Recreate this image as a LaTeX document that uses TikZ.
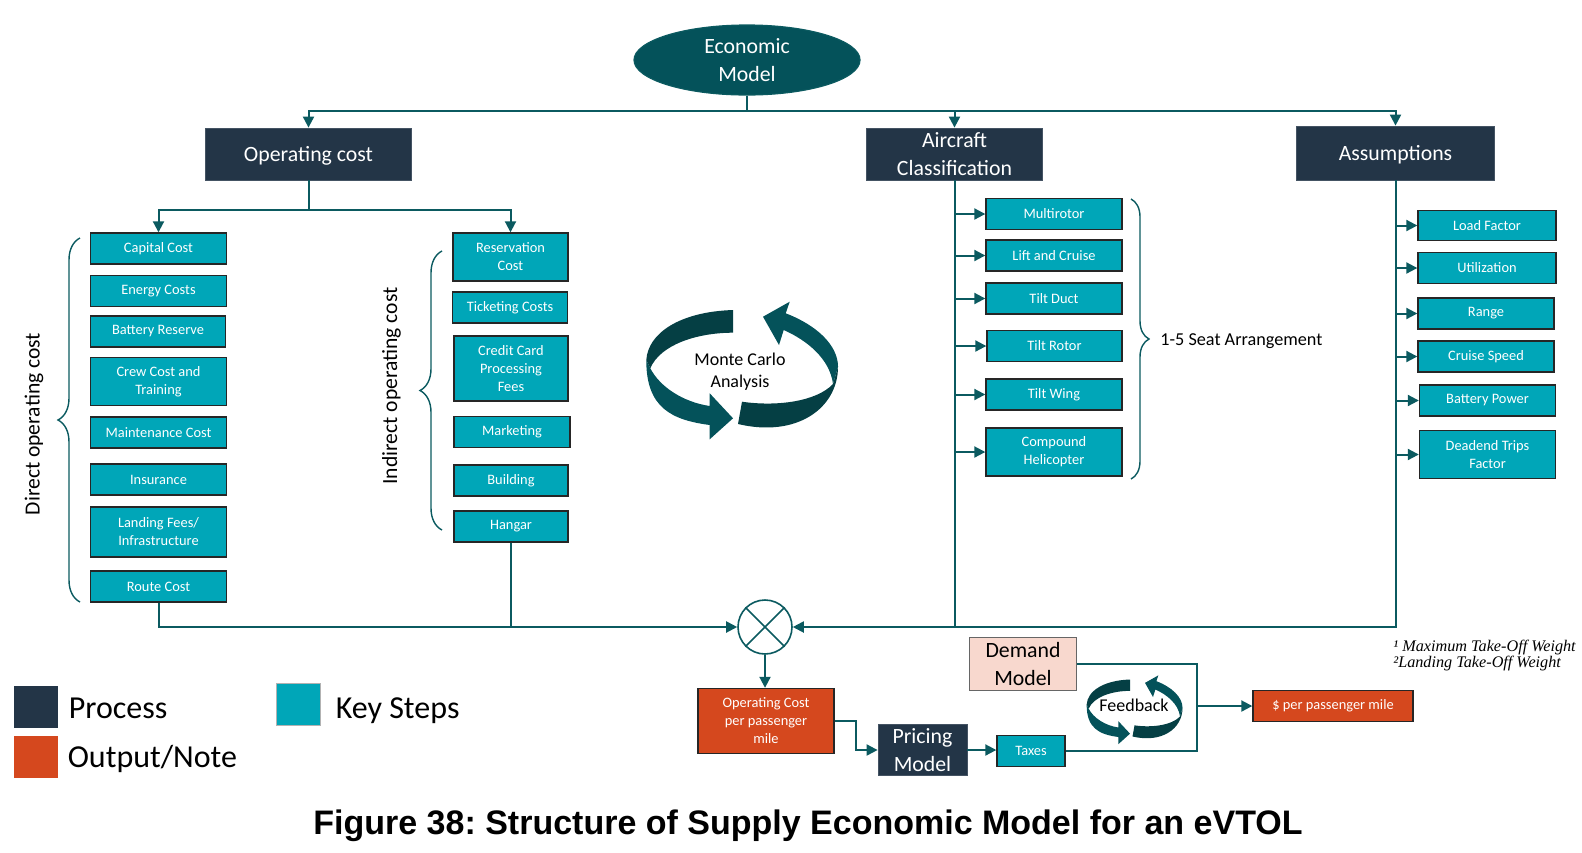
\documentclass[tikz,border=0pt]{standalone}
\usepackage{fontspec}
\setmainfont{Carlito}
\newfontfamily\titlefont{Liberation Sans}
\newfontfamily\notefont{Liberation Serif}
\usetikzlibrary{positioning, arrows.meta, decorations.pathreplacing, shapes.geometric}

\definecolor{navy}{HTML}{233547}
\definecolor{teal}{HTML}{00A6B8}
\definecolor{rust}{HTML}{D5481E}
\definecolor{peach}{HTML}{F8D8CE}
\definecolor{wire}{HTML}{0B5A60}
\definecolor{ribbon}{HTML}{04525A}
\definecolor{ribbondark}{HTML}{053F44}

% ribbon of two arrows: centre x, centre y, scale
\newcommand{\cycleloop}[3]{%
    \begin{scope}[shift={(#1,#2)}, scale=#3]
        \fill[ribbondark] (-9,-60) .. controls (-62,-58.3) and (-94,-37) .. (-95.7,-10)
            -- (-91.7,-1.7) .. controls (-82,-25) and (-45.7,-37.3) .. (-9,-37.3) -- cycle;
        \fill[ribbon] (-95.7,-10) .. controls (-96,38) and (-70,50) .. (-32.3,55)
            -- (-32.3,69.3) -- (-9,48.3) -- (-32.3,23.3) -- (-32.3,36)
            .. controls (-59,32) and (-82,17) .. (-91.7,-1.7) -- cycle;
        \fill[ribbondark] (0,31.7) .. controls (34.3,36.7) and (74.3,31.7) .. (91,14)
            -- (96,-3.3) .. controls (96,38) and (55,68) .. (-4,54) -- cycle;
        \fill[ribbon] (21,-53.3) -- (47.7,-68.3) -- (43.7,-56.7)
            .. controls (74.3,-45) and (96,-25) .. (96,-3.3) -- (91,14)
            .. controls (87.7,-11.7) and (64.3,-30) .. (41.7,-40) -- (37,-25) -- cycle;
    \end{scope}%
}

\begin{document}
\frenchspacing
\begin{tikzpicture}[
    x=0.5pt, y=-0.5pt,
    >={Triangle[length=5.5pt,width=5.5pt]},
    process/.style={
        fill=navy,
        draw=navy!85!white,
        line width=0.4pt,
        text=white,
        inner sep=0pt,
        align=center,
        font=\fontsize{10.9}{14}\selectfont,
    },
    keystep/.style={
        fill=teal,
        draw=black!85,
        line width=0.7pt,
        text=white,
        inner sep=0pt,
        align=center,
        minimum width=68pt,
        minimum height=15.5pt,
        font=\fontsize{7.2}{9}\selectfont,
    },
    tall/.style={minimum height=24pt},
    output/.style={
        keystep,
        fill=rust,
    },
    link/.style={
        draw=wire,
        line width=1pt,
    },
    bracket/.style={
        draw=wire,
        line width=0.7pt,
        decorate,
        decoration={brace, amplitude=11pt},
    },
    side label/.style={
        font=\fontsize{10.8}{12}\selectfont,
        inner sep=0pt,
    },
    swatch/.style={
        minimum width=22pt,
        minimum height=21pt,
        inner sep=0pt,
    },
    legend label/.style={
        font=\fontsize{16}{18}\selectfont,
        inner sep=0pt,
    },
]
\useasboundingbox (0,0) rectangle (1582,852);

% --- Top of the tree ---
\node[fill=ribbon, draw=wire, line width=0.6pt, ellipse, minimum width=113pt, minimum height=35pt,
    inner sep=0pt, text=white, align=center, font=\fontsize{10.9}{14}\selectfont]
    (model) at (747,60) {Economic\\Model};

\node[process, text depth=0pt, minimum width=103pt, minimum height=26pt] (opcost) at (308.5,154) {Operating cost};
\node[process, minimum width=88pt, minimum height=26pt] (aircraft) at (954.5,154) {Aircraft\\Classification};
\node[process, text depth=0pt, minimum width=99pt, minimum height=27pt] (assumptions) at (1395.5,153) {Assumptions};

\coordinate (split) at (747,111);
\coordinate (opsplit) at (308.5,210);

\draw[link] (model.south) -- (split);
\draw[link, ->] (split) -| (opcost.north);
\draw[link, ->] (split) -| (aircraft.north);
\draw[link, ->] (split) -| (assumptions.north);

% --- Direct operating cost ---
\node[keystep] (capital) at (158.5,248.5) {Capital Cost};
\node[keystep] (energy) at (158.5,291) {Energy Costs};
\node[keystep, minimum width=67.5pt] (battery) at (158,331.5) {Battery Reserve};
\node[keystep, tall] (crew) at (158.5,381.5) {Crew Cost and\\Training};
\node[keystep] (maint) at (158.5,432.5) {Maintenance Cost};
\node[keystep] (insurance) at (158.5,479.5) {Insurance};
\node[keystep, tall, minimum height=25pt] (landing) at (158.5,532) {Landing Fees/\\Infrastructure};
\node[keystep] (route) at (158.5,586.5) {Route Cost};

\draw[bracket] (80,602) -- (80,238);
\node[side label, rotate=90] (direct) at (34,424) {Direct operating cost};

% --- Indirect operating cost ---
\node[keystep, tall, minimum width=57.5pt] (reservation) at (510.5,257) {Reservation\\Cost};
\node[keystep, minimum width=57.5pt] (ticketing) at (510,307.5) {Ticketing Costs};
\node[keystep, minimum width=57pt, minimum height=32.5pt] (credit) at (511,368.5) {Credit Card\\Processing\\Fees};
\node[keystep, minimum width=58pt] (marketing) at (512,432) {Marketing};
\node[keystep, minimum width=57pt] (building) at (511,480.5) {Building};
\node[keystep, minimum width=57pt] (hangar) at (511,526.5) {Hangar};

\draw[bracket] (442,530) -- (442,251);
\node[side label, rotate=90] (indirect) at (391.5,386) {Indirect operating cost};

\draw[link] (opcost.south) -- (opsplit);
\draw[link, ->] (opsplit) -| (capital.north);
\draw[link, ->] (opsplit) -| (reservation.north);

% --- Aircraft classes ---
\node[keystep] (multirotor) at (1054,214) {Multirotor};
\node[keystep] (lift) at (1054,255.5) {Lift and Cruise};
\node[keystep] (duct) at (1054,298.5) {Tilt Duct};
\node[keystep, minimum width=67.5pt] (rotor) at (1054.5,346) {Tilt Rotor};
\node[keystep] (wing) at (1054,394.5) {Tilt Wing};
\node[keystep, tall] (compound) at (1054,452) {Compound\\Helicopter};

\foreach \n in {multirotor, lift, duct, rotor, wing, compound} {
    \draw[link, ->] (aircraft.south |- \n.west) -- (\n.west);
}

\draw[bracket, decoration={brace, amplitude=9pt}] (1131,199) -- (1131,479);
\node[side label, anchor=west, font=\fontsize{9.1}{11}\selectfont] (seats) at (1160,341) {1-5 Seat Arrangement};

% --- Assumptions ---
\node[keystep, minimum width=69pt, minimum height=15pt] (load) at (1487,225.5) {Load Factor};
\node[keystep, minimum width=69pt] (util) at (1487,268) {Utilization};
\node[keystep, minimum width=68pt] (range) at (1486,313.5) {Range};
\node[keystep, minimum width=68pt] (cruise) at (1486,356.5) {Cruise Speed};
\node[keystep, minimum width=68pt] (power) at (1487.5,400.5) {Battery Power};
\node[keystep, tall] (deadend) at (1487.5,454.5) {Deadend Trips\\Factor};

\foreach \n in {load, util, range, cruise, power, deadend} {
    \draw[link, ->] (assumptions.south |- \n.west) -- (\n.west);
}

% --- Merge point ---
\node[circle, draw=wire, fill=white, line width=0.8pt, minimum size=27pt, inner sep=0pt] (merge) at (765,627) {};
\draw[wire, line width=0.8pt] (merge.45) -- (merge.225);
\draw[wire, line width=0.8pt] (merge.135) -- (merge.315);

\draw[link, ->] (route.south) |- (merge.west);
\draw[link] (hangar.south) -- (hangar.south |- merge.west);
\draw[link, ->] (assumptions.south) |- (merge.east);
\draw[link] (aircraft.south) -- (aircraft.south |- merge.east);

% --- Pricing chain ---
\node[output, minimum width=68pt, minimum height=32.5pt] (opout) at (766,721) {Operating Cost\\per passenger\\mile};
\node[process, minimum width=44.5pt, minimum height=25.5pt] (pricing) at (922.5,750) {Pricing\\Model};
\node[keystep, minimum width=34pt] (taxes) at (1031,751) {Taxes};
\node[process, fill=peach, text=black, draw=black!60, line width=0.6pt, minimum width=53.5pt, minimum height=26.5pt] (demand) at (1023,664) {Demand\\Model};
\node[output, minimum width=80pt] (dollar) at (1333,706) {\$ per passenger mile};

\coordinate (joint) at (1196.5,706);

\draw[link, ->] (merge.south) -- (merge.south |- opout.north);
\draw[link, ->] (opout.east) -- ++(21,0) |- (pricing.west);
\draw[link, ->] (pricing.east) -- (pricing.east -| taxes.west);
\draw[link] (taxes.east) -| (joint);
\draw[link] (demand.east) -| (joint);
\draw[link, ->] (joint) -- (dollar.west);

% --- Loops ---
\cycleloop{742}{370}{1}
\node[font=\fontsize{9}{11}\selectfont, align=center, inner sep=0pt] (monte) at (740,371.5) {Monte Carlo\\Analysis};

\cycleloop{1134.5}{709.5}{0.5}
\node[font=\fontsize{9}{11}\selectfont, inner sep=0pt] (feedback) at (1134,705.5) {Feedback};

% --- Notes and legend ---
\node[anchor=west, inner sep=0pt, align=left, font=\notefont\itshape\fontsize{8.1}{8}\selectfont] (notes) at (1393,656) {¹ Maximum Take-Off Weight\\²Landing Take-Off Weight};

\node[swatch, fill=navy] (keyprocess) at (36,707) {};
\node[legend label, right=5pt of keyprocess, yshift=-0.5pt] {Process};
\node[swatch, fill=teal, draw=black!30, line width=0.4pt] (keysteps) at (298,704) {};
\node[legend label, right=7.5pt of keysteps, yshift=-3.5pt] {Key Steps};
\node[swatch, fill=rust] (keyoutput) at (36,757) {};
\node[legend label, right=4.5pt of keyoutput, yshift=-1pt] {Output/Note};

\node[font=\titlefont\bfseries\fontsize{17}{20}\selectfont, inner sep=0pt] (caption) at (808,826) {Figure 38: Structure of Supply Economic Model for an eVTOL};

\end{tikzpicture}
\end{document}
